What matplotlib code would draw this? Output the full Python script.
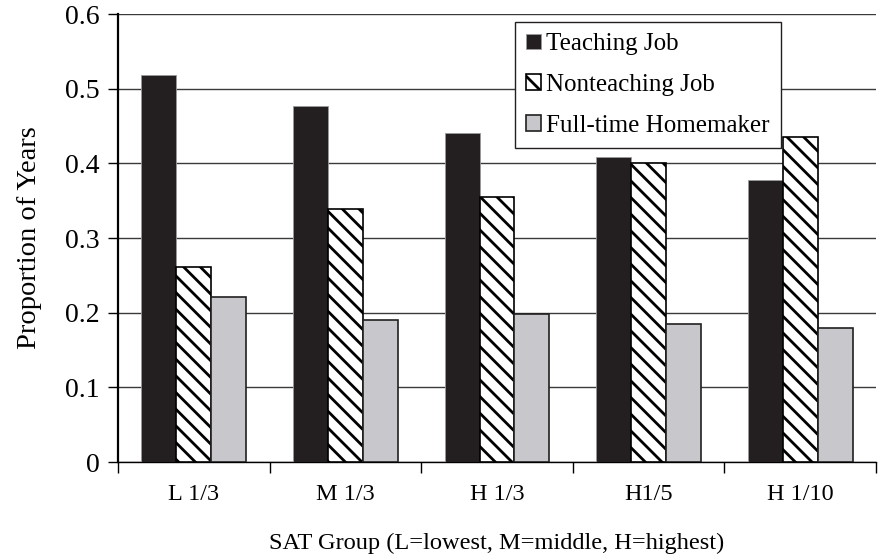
import numpy as np
import matplotlib
matplotlib.use("Agg")
from matplotlib import pyplot as plt

# values
groups = ['L 1/3', 'M 1/3', 'H 1/3', 'H1/5', 'H 1/10']
teaching = [0.518, 0.477, 0.441, 0.408, 0.378]
nonteaching = [0.261, 0.339, 0.355, 0.400, 0.435]
homemaker = [0.221, 0.190, 0.198, 0.185, 0.180]
yticks = [0, 0.1, 0.2, 0.3, 0.4, 0.5, 0.6]
ytick_labels = ['0', '0.1', '0.2', '0.3', '0.4', '0.5', '0.6']

plt.rcParams['font.family'] = ['Liberation Serif', 'DejaVu Serif']
plt.rcParams['hatch.linewidth'] = 2.0

fig = plt.figure(figsize=(8.91, 5.58), dpi=100)
ax = fig.add_axes([118 / 891, 1 - 462 / 558, 758 / 891, 448 / 558])

x = np.arange(len(groups))
w = 0.23

ax.bar(x - w, teaching, w, color='#231f20', edgecolor='#9a9a9a', linewidth=0.6,
       label='Teaching Job', zorder=3)
ax.bar(x, nonteaching, w, color='white', edgecolor='black', linewidth=1.2,
       hatch='\\\\', label='Nonteaching Job', zorder=3)
ax.bar(x + w, homemaker, w, color='#c8c8cc', edgecolor='#231f20', linewidth=1.2,
       label='Full-time Homemaker', zorder=3)

ax.set_xlim(-0.5, len(groups) - 0.5)
ax.set_ylim(0, 0.6)
ax.set_yticks(yticks)
ax.set_yticklabels(ytick_labels, fontsize=20)
ax.yaxis.grid(True, color='#3a3a3a', linewidth=1.0, zorder=0)
ax.set_axisbelow(True)

# labels under the groups, tick marks at group boundaries
ax.set_xticks(x)
ax.set_xticklabels(groups, fontsize=17.5)
ax.tick_params(axis='x', which='major', length=0, pad=16)
ax.set_xticks(np.arange(len(groups) + 1) - 0.5, minor=True)
ax.tick_params(axis='x', which='minor', length=8, width=1, direction='out')
ax.tick_params(axis='y', length=7, width=1, direction='out', pad=6)

ax.spines['top'].set_visible(False)
ax.spines['right'].set_visible(False)
ax.spines['left'].set_linewidth(1.6)
ax.spines['bottom'].set_linewidth(1.0)

ax.set_ylabel('Proportion of Years', fontsize=20.5, labelpad=17)
ax.set_xlabel('SAT Group (L=lowest, M=middle, H=highest)', fontsize=17.6, labelpad=20)

leg = ax.legend(loc='upper left', bbox_to_anchor=(0.524, 0.982), fontsize=18,
                frameon=True, fancybox=False, handlelength=0.6, handleheight=0.6,
                handletextpad=0.2, labelspacing=0.75, borderpad=0.45,
                borderaxespad=0)
leg.get_frame().set_edgecolor('#231f20')
leg.get_frame().set_linewidth(1.0)
leg.get_frame().set_alpha(1)

fig.savefig('out.png', dpi=100)
